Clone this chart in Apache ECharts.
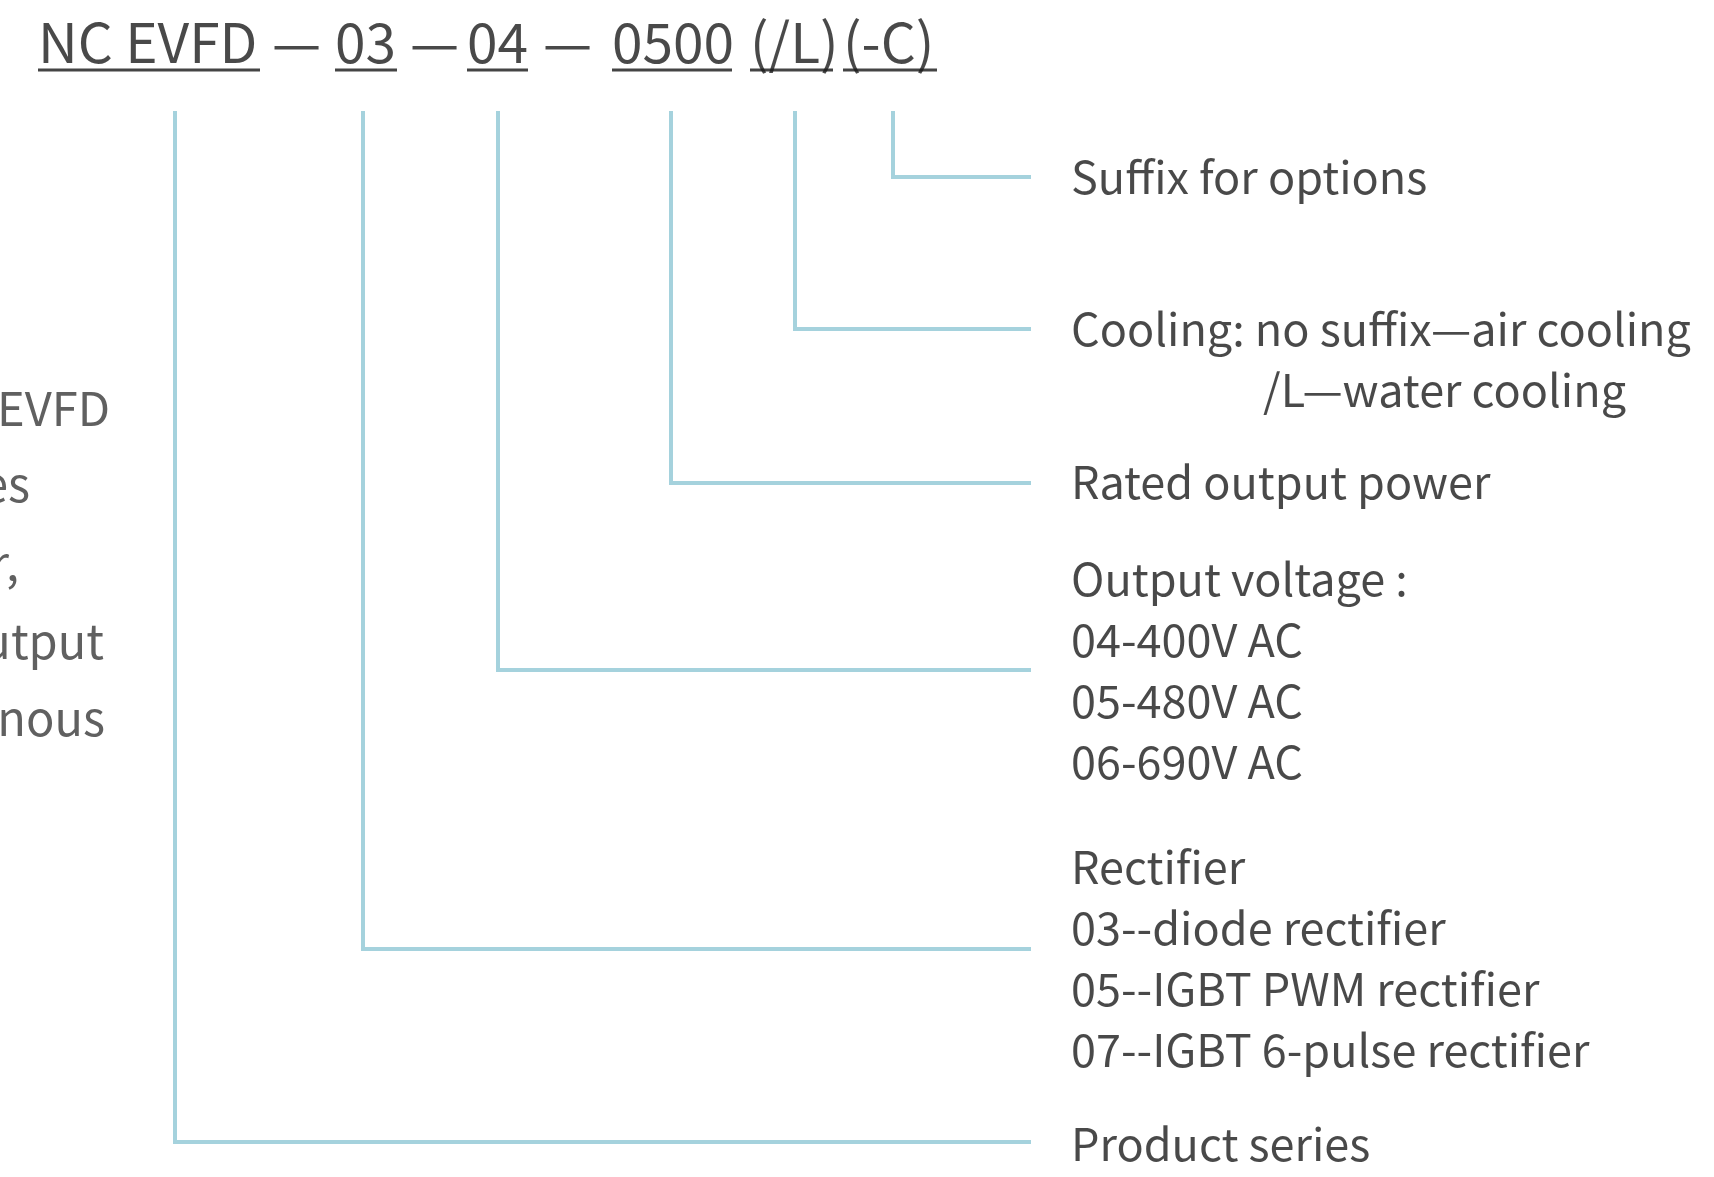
<!DOCTYPE html>
<html>
<head>
<meta charset="utf-8">
<script src="https://cdn.jsdelivr.net/npm/echarts@6/dist/echarts.min.js"></script>
<style>
html,body{margin:0;padding:0;background:#fff;}
#chart{width:1714px;height:1177px;}
</style>
</head>
<body>
<div id="chart"></div>
<script>
// ---- content ----
const codeSegments = ['NC EVFD', '03', '04', '0500', '(/L)', '(-C)'];
const codeSeparators = ['—', '—', '—'];
const descriptions = [
  ['Product series'],
  ['Rectifier', '03--diode rectifier', '05--IGBT PWM rectifier', '07--IGBT 6-pulse rectifier'],
  ['Output voltage :', '04-400V AC', '05-480V AC', '06-690V AC'],
  ['Rated output power'],
  ['Cooling: no suffix—air cooling'],
  ['Suffix for options']
];
const coolingSecondLine = '/L—water cooling';
const leftNoteLines = ['NC EVFD', 'series', 'inverter,', 'output', 'synchronous'];

// ---- layout (pixel space of the hidden value axes) ----
const segSpan = [[38, 260], [335, 397], [467, 528], [612, 732], [750, 833], [843, 937]];
const sepStart = [272, 410, 543];
const bracketX = [175, 363, 498, 671, 795, 893];
const bracketY = [1142, 949, 670, 483, 329, 177];
const descFirstY = [1144, 867, 579, 482, 329, 177];
const lineTop = 111, lineEnd = 1031, descX = 1071, descStep = 61;
const coolingSecond = [1263, 390];
const leftNoteRight = [110, 30, 19, 104, 105];
const leftNoteY = [408, 484, 563, 641, 718];
const headerY = 42, underlineY = 70;

const FONT = '"Noto Sans CJK SC", "Noto Sans", sans-serif';
const LINE_COLOR = '#a5d2dd';
const TEXT_COLOR = '#1c1c1c';

function textSeries(items, size, align, color) {
  return {
    type: 'scatter', symbolSize: 0, silent: true,
    data: items.map(d => ({value: [d[0], d[1]], name: d[2]})),
    label: {
      show: true, position: [0, 0], align: align, verticalAlign: 'middle',
      formatter: p => p.name, fontFamily: FONT, fontSize: size, fontWeight: 'normal', color: color
    }
  };
}

const headerItems = [];
codeSegments.forEach((s, i) => headerItems.push([segSpan[i][0], headerY, s]));
codeSeparators.forEach((s, i) => headerItems.push([sepStart[i], headerY, s]));

const descItems = [];
descriptions.forEach((lines, i) => {
  lines.forEach((t, j) => descItems.push([descX, descFirstY[i] + j * descStep, t]));
});
descItems.push([coolingSecond[0], coolingSecond[1], coolingSecondLine]);

const leftItems = leftNoteLines.map((t, i) => [leftNoteRight[i], leftNoteY[i], t]);

const bracketLines = bracketX.map((x, i) => ({coords: [[x, lineTop], [x, bracketY[i]], [lineEnd, bracketY[i]]]}));
const underlines = segSpan.map(s => ({coords: [[s[0], underlineY], [s[1], underlineY]]}));

const chart = echarts.init(document.getElementById('chart'));
chart.setOption({
  backgroundColor: '#ffffff',
  animation: false,
  grid: {left: 0, right: 0, top: 0, bottom: 0},
  xAxis: {type: 'value', min: 0, max: 1714, show: false},
  yAxis: {type: 'value', min: 0, max: 1177, inverse: true, show: false},
  series: [
    {type: 'lines', coordinateSystem: 'cartesian2d', polyline: true, silent: true,
     lineStyle: {color: LINE_COLOR, width: 4, opacity: 1}, data: bracketLines},
    {type: 'lines', coordinateSystem: 'cartesian2d', polyline: true, silent: true,
     lineStyle: {color: '#444444', width: 3, opacity: 1}, data: underlines},
    textSeries(headerItems, 55, 'left', TEXT_COLOR),
    textSeries(descItems, 45, 'left', TEXT_COLOR),
    textSeries(leftItems, 47, 'right', '#383838')
  ]
});
</script>
</body>
</html>
